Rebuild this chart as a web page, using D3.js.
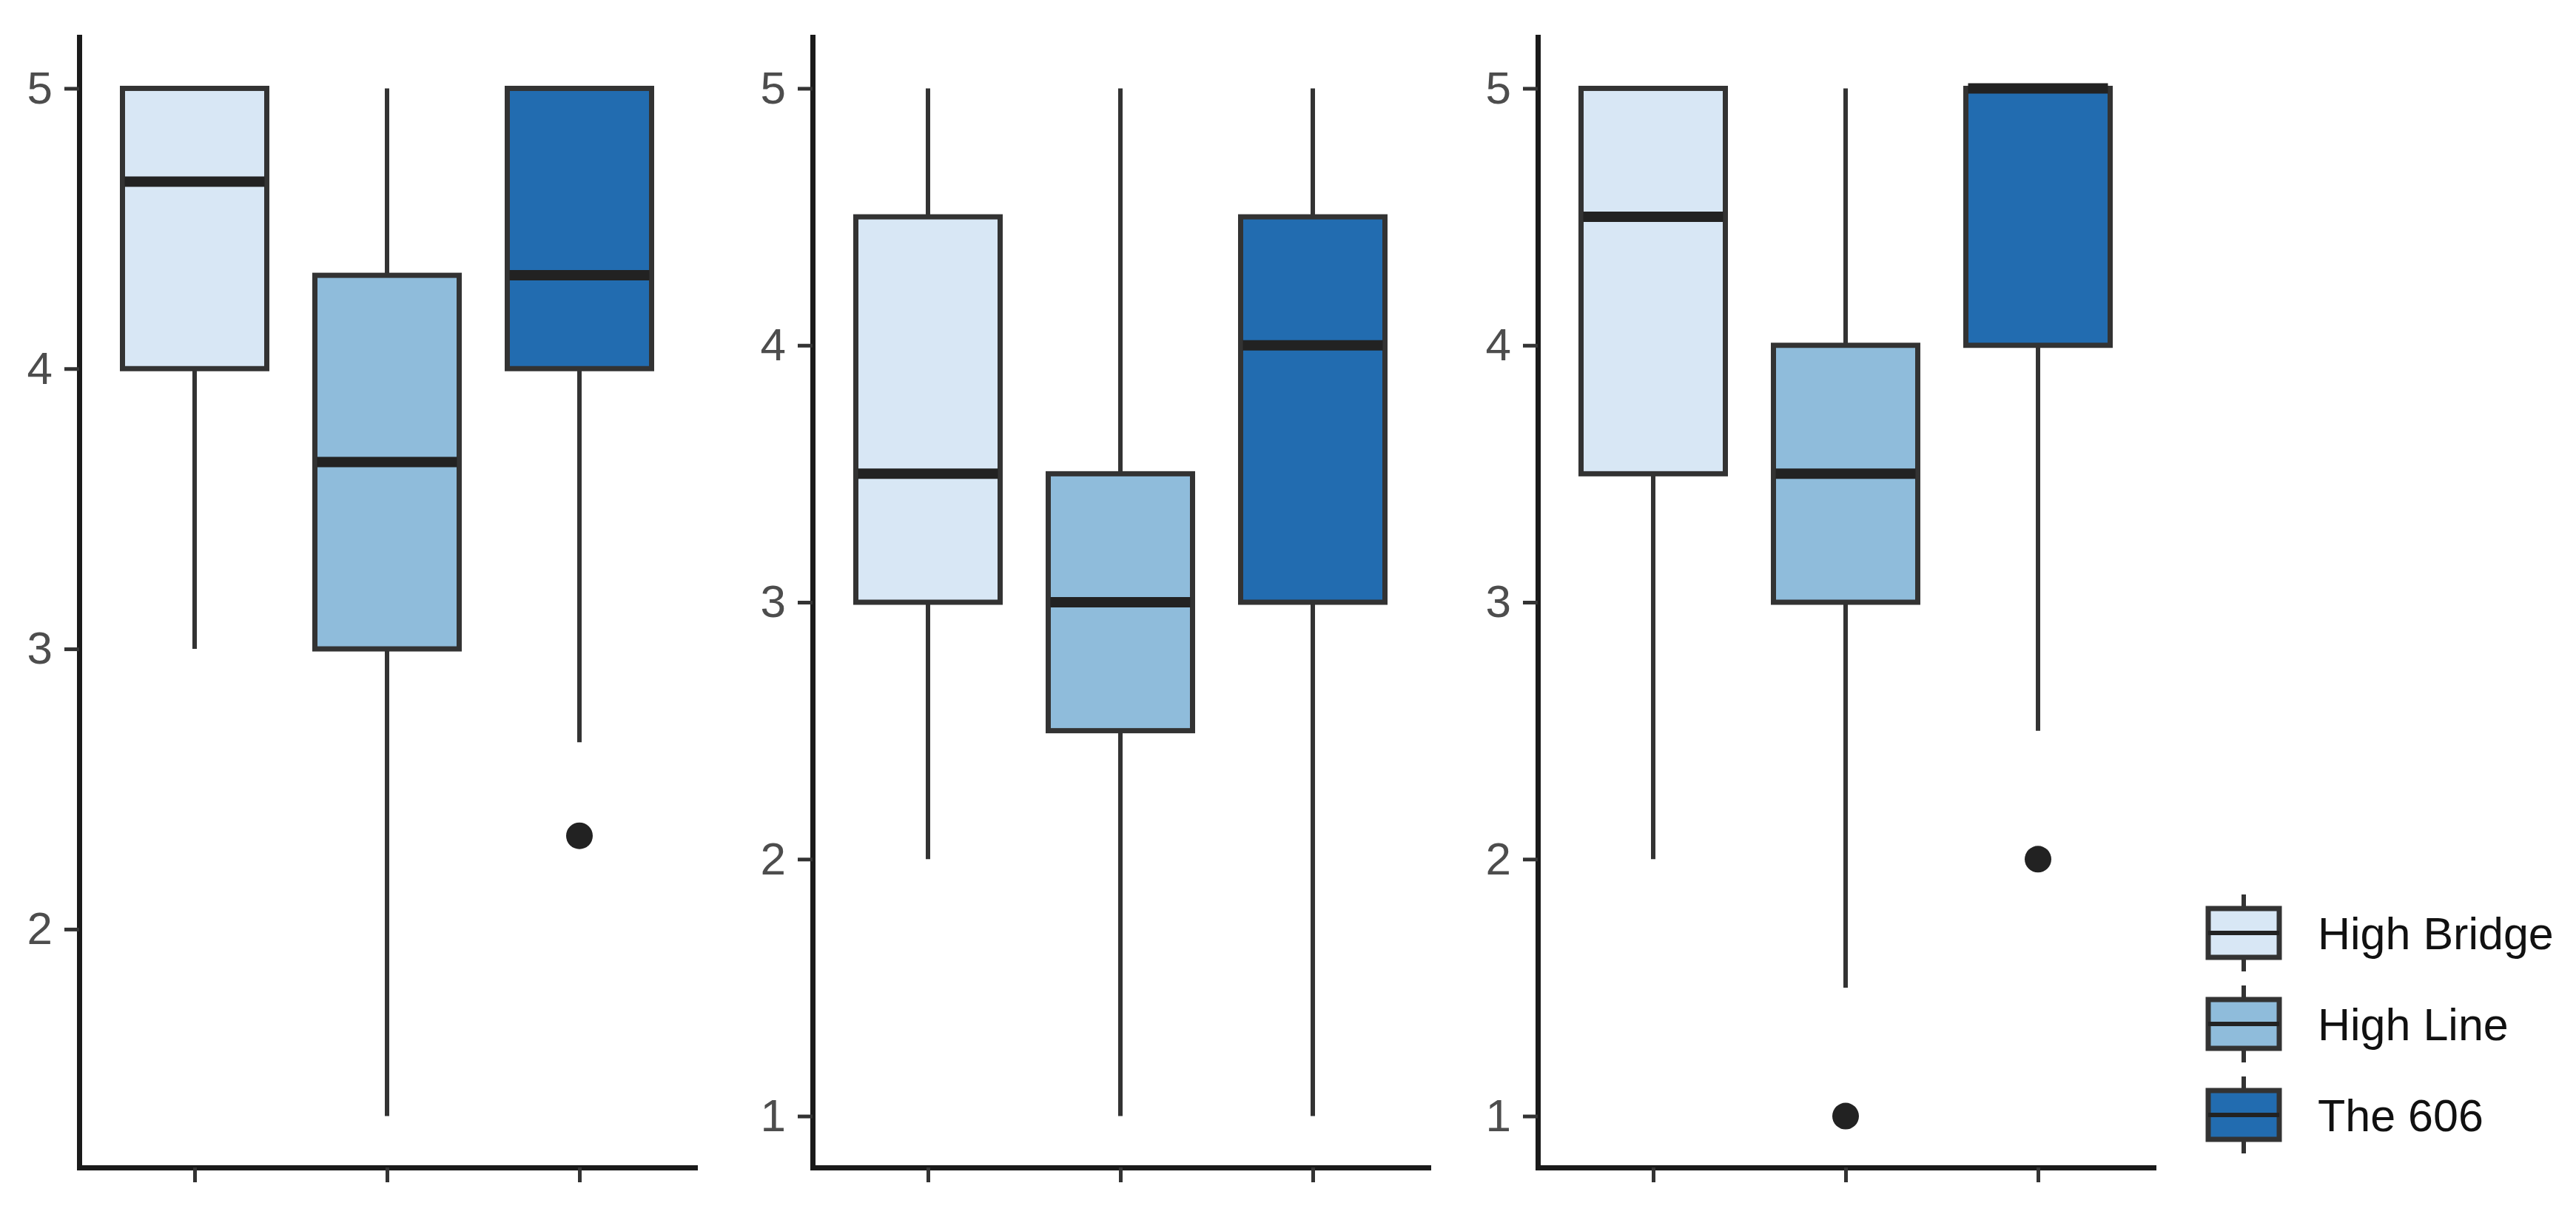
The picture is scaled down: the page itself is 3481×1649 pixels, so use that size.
<!DOCTYPE html>
<html>
<head>
<meta charset="utf-8">
<script src="https://cdn.jsdelivr.net/npm/d3@7"></script>
<style>
  body { margin: 0; background: #fff; }
  svg { display: block; font-family: "Liberation Sans", Arial, sans-serif; }
</style>
</head>
<body>
<svg id="chart" width="3481" height="1649"></svg>
<script>
// groups and colours
const groups = ["High Bridge", "High Line", "The 606"];
const fills = ["#d8e7f5", "#8fbcdb", "#226cb0"];

// box stats per group: [lower whisker, q1, median, q3, upper whisker]
const statsA = [[3, 4, 4.667, 5, 5], [1.333, 3, 3.667, 4.333, 5], [2.667, 4, 4.333, 5, 5]];
const statsB = [[2, 3, 3.5, 4.5, 5], [1, 2.5, 3, 3.5, 5], [1, 3, 4, 4.5, 5]];
const statsC = [[2, 3.5, 4.5, 5, 5], [1.5, 3, 3.5, 4, 5], [2.5, 4, 5, 5, 5]];

// outliers per group
const outA = [[], [], [2.333]];
const outB = [[], [], []];
const outC = [[], [1], [2]];

// y tick labels
const ticksA = [2, 3, 4, 5];
const ticksB = [1, 2, 3, 4, 5];
const ticksC = [1, 2, 3, 4, 5];

const svg = d3.select("#chart");
const plotTop = 50, plotBottom = 1578, panelW = 832;
const lineCol = "#333333";

function panel(x0, stats, outs, ticks) {
  const allVals = stats.flat().concat(outs.flat());
  const [lo, hi] = d3.extent(allVals);
  const pad = (hi - lo) * 0.05;
  const y = d3.scaleLinear().domain([lo - pad, hi + pad]).range([plotBottom, plotTop]);
  const x = d3.scalePoint().domain(groups).range([x0, x0 + panelW]).padding(0.6);
  const bw = x.step() * 0.75;

  const g = svg.append("g");

  const box = g.selectAll("g.box")
    .data(groups.map((k, i) => ({ key: k, s: stats[i], out: outs[i], fill: fills[i] })))
    .join("g")
    .attr("class", "box");

  // whiskers
  box.append("line")
    .attr("x1", d => x(d.key)).attr("x2", d => x(d.key))
    .attr("y1", d => y(d.s[0])).attr("y2", d => y(d.s[1]))
    .attr("stroke", lineCol).attr("stroke-width", 6);
  box.append("line")
    .attr("x1", d => x(d.key)).attr("x2", d => x(d.key))
    .attr("y1", d => y(d.s[3])).attr("y2", d => y(d.s[4]))
    .attr("stroke", lineCol).attr("stroke-width", 6);

  box.append("rect")
    .attr("x", d => x(d.key) - bw / 2)
    .attr("width", bw)
    .attr("y", d => y(d.s[3]))
    .attr("height", d => y(d.s[1]) - y(d.s[3]))
    .attr("fill", d => d.fill)
    .attr("stroke", lineCol).attr("stroke-width", 7);

  box.append("line")
    .attr("x1", d => x(d.key) - bw / 2 + 3).attr("x2", d => x(d.key) + bw / 2 - 3)
    .attr("y1", d => y(d.s[2])).attr("y2", d => y(d.s[2]))
    .attr("stroke", "#222").attr("stroke-width", 14);

  box.selectAll("circle")
    .data(d => d.out.map(v => ({ key: d.key, v })))
    .join("circle")
    .attr("cx", d => x(d.key)).attr("cy", d => y(d.v))
    .attr("r", 18).attr("fill", "#222");

  // axes
  const ya = g.append("g")
    .attr("transform", `translate(${x0},0)`)
    .call(d3.axisLeft(y).tickValues(ticks).tickFormat(d3.format("d"))
      .tickSize(20).tickSizeOuter(0).tickPadding(16));
  const xa = g.append("g")
    .attr("transform", `translate(0,${plotBottom})`)
    .call(d3.axisBottom(x).tickFormat("").tickSize(20).tickSizeOuter(0));

  [ya, xa].forEach(a => {
    a.select(".domain").attr("stroke", "#1a1a1a").attr("stroke-width", 7).attr("stroke-linecap", "square");
    a.selectAll(".tick line").attr("stroke", lineCol).attr("stroke-width", 5);
  });
  ya.selectAll(".tick text")
    .attr("fill", "#4d4d4d")
    .attr("font-size", 62)
    .attr("font-family", "Liberation Sans, Arial, sans-serif");
}

panel(107, statsA, outA, ticksA);
panel(1098, statsB, outB, ticksB);
panel(2078, statsC, outC, ticksC);

// legend
const legend = svg.append("g").attr("transform", "translate(2984,1200)");
const keyH = 123, keyW = 96;
const item = legend.selectAll("g")
  .data(groups.map((k, i) => ({ key: k, fill: fills[i] })))
  .join("g")
  .attr("transform", (d, i) => `translate(0,${i * keyH})`);

item.append("line")
  .attr("x1", keyW / 2).attr("x2", keyW / 2)
  .attr("y1", 9).attr("y2", 113)
  .attr("stroke", lineCol).attr("stroke-width", 6);
item.append("rect")
  .attr("x", 0).attr("y", 28).attr("width", keyW).attr("height", 66)
  .attr("fill", d => d.fill)
  .attr("stroke", lineCol).attr("stroke-width", 7);
item.append("line")
  .attr("x1", 0).attr("x2", keyW)
  .attr("y1", 61).attr("y2", 61)
  .attr("stroke", "#222").attr("stroke-width", 6);
item.append("text")
  .attr("x", 148).attr("y", 61)
  .attr("dy", "0.36em")
  .attr("font-size", 61)
  .attr("fill", "#111")
  .text(d => d.key);
</script>
</body>
</html>
